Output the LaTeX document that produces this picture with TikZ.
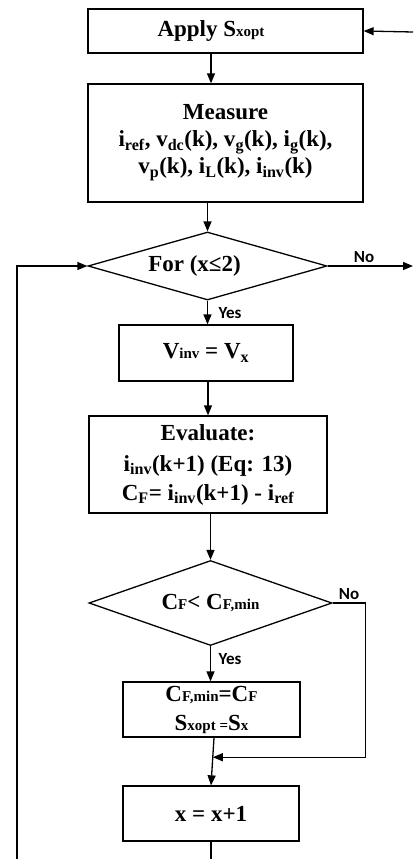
\documentclass[tikz,border=0pt]{standalone}
\usepackage{fontspec}
\setmainfont{Liberation Serif}
\newfontfamily\yesnofont{Carlito}
\usetikzlibrary{positioning,shapes.geometric,arrows.meta,calc}

\newcommand{\sml}[1]{{\fontsize{15}{15}\selectfont #1}}
\newcommand{\sbs}[1]{\textsubscript{#1}}

\begin{document}
\begin{tikzpicture}[x=1pt,y=-1pt,
  flowbox/.style={rectangle,draw,line width=1.3pt,fill=white,align=center,inner sep=2pt,
    font=\fontsize{23}{27}\selectfont\bfseries},
  decide/.style={diamond,draw,line width=1.3pt,inner sep=0pt,aspect=2.9,
    font=\fontsize{23}{27}\selectfont\bfseries},
  txt/.style={font=\fontsize{23}{27}\selectfont\bfseries,inner sep=0pt},
  lnk/.style={->,>={Triangle[length=10pt,width=8pt]},line width=1.3pt},
  yesno/.style={font=\yesnofont\fontsize{17}{17}\selectfont\bfseries,inner sep=0pt},
]
\useasboundingbox (0,0) rectangle (413,859);

% === Apply and measure ===
\node[flowbox,minimum width=275,minimum height=44] (apply) at (225.5,31) {};
\node[txt] (applyt) at (211,31) {Apply S\sml{xopt}};
\coordinate (entry) at (413,32);

\node[flowbox,minimum width=275,minimum height=118] (measure) at (225.5,143)
  {Measure\\
   i\sbs{ref}, v\sbs{dc}(k), v\sbs{g}(k), i\sbs{g}(k),\\
   v\sbs{p}(k), i\sbs{L}(k), i\sbs{inv}(k)};

% === Loop test ===
\node[decide,minimum width=239,minimum height=68] (for) at (207.5,266) {};
\node[txt] (fort) at (194.5,266) {For (x≤2)};
\coordinate (exit) at (413,266);
\node[yesno] (no1) at (364,257) {No};
\node[yesno] (yes1) at (230,313) {Yes};

\node[flowbox,minimum width=174,minimum height=56] (vinv) at (206,353)
  {V\sml{inv} = V\sbs{x}};

\node[flowbox,minimum width=238,minimum height=97] (eval) at (208,464.5)
  {Evaluate:\\[4pt]
   i\sbs{inv}(k+1) (Eq: 13)\\[2pt]
   C\sbs{F}= i\sbs{inv}(k+1) - i\sbs{ref}};

% === Cost check ===
\node[decide,minimum width=243,minimum height=85] (cmp) at (210.5,603)
  {C\sml{F}< C\sml{F,min}};
\node[yesno] (no2) at (349,594) {No};
\node[yesno] (yes2) at (230,659) {Yes};

\node[flowbox,minimum width=177,minimum height=55] (cfmin) at (211.5,709.5)
  {C\sml{F,min}=C\sml{F}\\[2pt]
   S\sml{xopt =}S\sml{x}};

\node[flowbox,minimum width=176,minimum height=55] (incr) at (211,813.5) {x = x+1};

% === Connectors ===
\draw[lnk] (entry) -- (apply.east);
\draw[lnk] (apply.south -| applyt) -- (measure.north -| applyt);
\draw[lnk] (measure.south -| for.north) -- (for.north);
\draw[lnk] (for.east) -- (exit);
\draw[lnk] (for.south) -- (vinv.north -| for.south);
\draw[lnk] (vinv.south -| eval.north) -- (eval.north);
\draw[lnk] (eval.south -| cmp.north) -- (cmp.north);
\draw[lnk] (cmp.south) -- (cfmin.north -| cmp.south);
\draw[lnk] ([xshift=2.5]cfmin.south) -- coordinate[pos=0.41] (join) (incr.north);
\draw[lnk] (cmp.east) -- ++(33,0) |- (join);

% loop back (runs below the page edge)
\coordinate (back) at (17,880);
\draw[lnk] (incr.south) |- (back) |- (for.west);

\end{tikzpicture}
\end{document}
